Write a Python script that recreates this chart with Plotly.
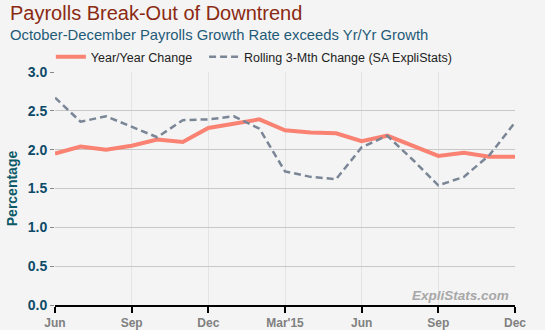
import plotly.graph_objects as go

months = ["Jun", "Jul", "Aug", "Sep", "Oct", "Nov", "Dec", "Jan", "Feb", "Mar", "Apr", "May",
          "Jun", "Jul", "Aug", "Sep", "Oct", "Nov", "Dec"]
yoy = [1.95, 2.04, 2.00, 2.05, 2.13, 2.10, 2.28, 2.34, 2.39, 2.25, 2.22, 2.21,
       2.11, 2.18, 2.05, 1.92, 1.96, 1.91, 1.91]
roll3 = [2.67, 2.36, 2.43, 2.29, 2.16, 2.38, 2.39, 2.43, 2.27, 1.72, 1.65, 1.62,
         2.03, 2.18, 1.87, 1.54, 1.65, 1.93, 2.35]
tick_idx = [0, 3, 6, 9, 12, 15, 18]
tick_labels = ["Jun", "Sep", "Dec", "Mar'15", "Jun", "Sep", "Dec"]
y_ticks = [0, 0.5, 1.0, 1.5, 2.0, 2.5, 3.0]

x = list(range(len(months)))
FONT = "Liberation Sans"

fig = go.Figure()
fig.add_trace(go.Scatter(x=x, y=yoy, mode="lines", name="Year/Year Change" + "\u00a0" * 2,
                         line=dict(color="#f98273", width=4)))
fig.add_trace(go.Scatter(x=x, y=roll3, mode="lines", name="Rolling 3-Mth Change (SA ExpliStats)",
                         line=dict(color="#7a8696", width=2.5, dash="7px,4px")))

fig.update_layout(
    width=545, height=330,
    paper_bgcolor="#f4f4f4", plot_bgcolor="#f4f4f4",
    margin=dict(l=55, r=30, t=72, b=25, autoexpand=False),
    font=dict(family=FONT),
    showlegend=True,
    legend=dict(orientation="h", x=-0.009, y=1.0, yanchor="bottom", xanchor="left",
                font=dict(size=12.5, color="#222222", family=FONT), bgcolor="rgba(0,0,0,0)",
                itemwidth=30, tracegroupgap=0),
    xaxis=dict(range=[0, 18], tickmode="array", tickvals=tick_idx,
               ticktext=["<b>%s</b>" % t for t in tick_labels],
               showgrid=True, gridcolor="#e4e4e4", gridwidth=1,
               showline=True, linecolor="#000000", linewidth=2,
               ticks="outside", ticklen=6, tickwidth=2, tickcolor="#000000",
               tickfont=dict(size=12, color="#808080", family=FONT),
               zeroline=False, automargin=False),
    yaxis=dict(range=[0, 3.0], tickmode="array", tickvals=y_ticks,
               ticktext=["<b>%.1f</b>" % v for v in y_ticks],
               showgrid=True, gridcolor="#c8c8c8", gridwidth=1,
               ticks="outside", ticklen=4, tickcolor="#888888",
               tickfont=dict(size=14, color="#0d4a68", family=FONT),
               title=dict(text="<b>Percentage</b>", font=dict(size=14, color="#0d5a68", family=FONT),
                          standoff=6),
               zeroline=False, showline=False, automargin=False),
    annotations=[
        dict(text="Payrolls Break-Out of Downtrend", xref="paper", yref="paper",
             x=-55/460, y=1 + 72/233, xanchor="left", yanchor="top", showarrow=False,
             xshift=8, yshift=0,
             font=dict(size=20, color="#8b2a12", family=FONT)),
        dict(text="October-December Payrolls Growth Rate exceeds Yr/Yr Growth", xref="paper", yref="paper",
             x=-55/460, y=1 + 72/233, xanchor="left", yanchor="top", showarrow=False,
             xshift=8, yshift=-25,
             font=dict(size=14.8, color="#1f5b78", family=FONT)),
        dict(text="<i><b>ExpliStats.com</b></i>", xref="paper", yref="paper",
             x=1, y=0, xanchor="right", yanchor="bottom", showarrow=False,
             xshift=-4, yshift=0,
             font=dict(size=13.5, color="#a8a8a8", family=FONT)),
    ],
)

fig.write_html("out.html")
